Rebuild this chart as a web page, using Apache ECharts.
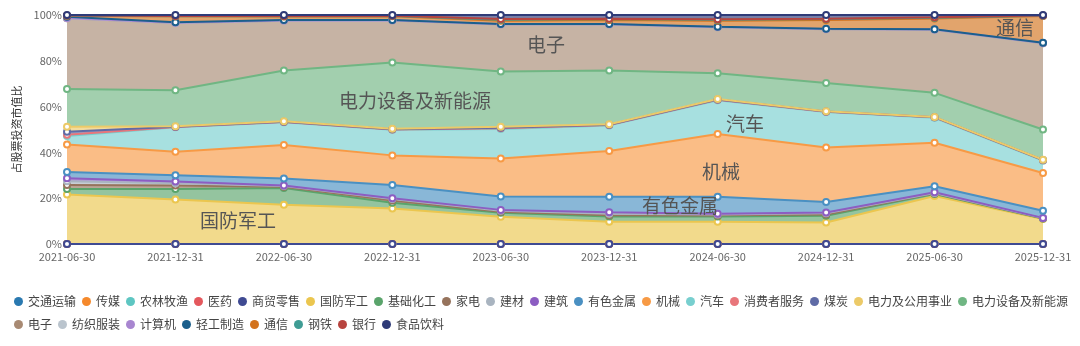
<!DOCTYPE html>
<html>
<head>
<meta charset="utf-8">
<script src="https://cdn.jsdelivr.net/npm/echarts@6/dist/echarts.min.js"></script>
<style>
  html, body { margin: 0; padding: 0; background: #fff; }
  #chart { width: 1080px; height: 346px; }
</style>
</head>
<body>
<div id="chart"></div>
<script>
const dates = ['2021-06-30', '2021-12-31', '2022-06-30', '2022-12-31', '2023-06-30',
  '2023-12-31', '2024-06-30', '2024-12-31', '2025-06-30', '2025-12-31']

const industries = ['交通运输', '传媒', '农林牧渔', '医药', '商贸零售', '国防军工', '基础化工', '家电',
  '建材', '建筑', '有色金属', '机械', '汽车', '消费者服务', '煤炭', '电力及公用事业',
  '电力设备及新能源', '电子', '纺织服装', '计算机', '轻工制造', '通信', '钢铁', '银行', '食品饮料']

const colors = ['#2a79b0', '#f5892c', '#5ec6c2', '#e4585d', '#3f4a92', '#ebc64f', '#5aa46b', '#96735c',
  '#a9b4c0', '#8c5dc2', '#4a90c2', '#f79a45', '#78cfcf', '#e8767b', '#5f6ba6', '#ecca68',
  '#70b683', '#a88a73', '#bac4cd', '#a886d0', '#1b5f8c', '#d3731d', '#3f9c94', '#b8443f', '#2f3b78']

// share of stock holdings (%), one row per industry, same order as industries
const shares = [
  [0, 0, 0, 0, 0, 0, 0, 0, 0, 0],
  [0, 0, 0, 0, 0, 0, 0, 0, 0, 0],
  [0, 0, 0, 0, 0, 0, 0, 0, 0, 0],
  [0, 0, 0, 0, 0, 0, 0, 0, 0, 0],
  [0, 0, 0, 0, 0, 0, 0, 0, 0, 0],
  [21.6, 19.4, 17.1, 15.5, 11.9, 9.7, 9.7, 9.4, 21.0, 10.9],
  [2.4, 4.6, 7.3, 2.5, 1.7, 2.3, 2.3, 2.9, 0.8, 0.2],
  [1.8, 1.6, 0.6, 1.0, 0.5, 0.6, 0.5, 0.6, 0.3, 0.1],
  [1.6, 0.9, 0.3, 0.6, 0.4, 0.6, 0.4, 0.5, 0.2, 0.1],
  [1.3, 0.8, 0.2, 0.4, 0.4, 0.7, 0.3, 0.4, 0.3, 0.1],
  [2.7, 2.7, 3.1, 5.8, 5.8, 6.7, 7.4, 4.5, 2.6, 3.1],
  [12.1, 10.3, 14.6, 12.9, 16.6, 20.0, 27.4, 23.8, 19.0, 16.5],
  [3.7, 10.7, 10.0, 11.2, 12.9, 11.2, 14.8, 15.5, 10.9, 5.4],
  [0.5, 0.1, 0.1, 0.1, 0.4, 0.2, 0.2, 0.2, 0.2, 0.2],
  [1.3, 0.1, 0.1, 0.1, 0.2, 0.1, 0.1, 0.1, 0.1, 0.1],
  [2.2, 0.2, 0.2, 0.2, 0.4, 0.2, 0.2, 0.1, 0.1, 0.1],
  [16.5, 15.7, 22.2, 29.0, 24.1, 23.5, 11.3, 12.3, 10.5, 13.2],
  [30.9, 29.4, 21.7, 18.3, 20.6, 20.1, 20.1, 23.5, 27.6, 37.7],
  [0, 0, 0, 0, 0, 0, 0, 0, 0, 0],
  [0.1, 0.1, 0.1, 0.1, 0.1, 0.1, 0.1, 0.1, 0.1, 0.1],
  [0.5, 0.2, 0.2, 0.1, 0.1, 0.1, 0.1, 0.1, 0.1, 0.1],
  [0.4, 2.6, 1.5, 1.7, 1.4, 1.7, 2.6, 3.8, 4.7, 11.7],
  [0.1, 0.1, 0.2, 0.1, 0.4, 0.4, 0.4, 0.4, 0.3, 0.1],
  [0.1, 0.1, 0.1, 0.1, 0.3, 0.2, 0.2, 0.2, 0.2, 0.1],
  [0.2, 0.4, 0.4, 0.3, 1.8, 1.6, 1.9, 1.6, 1.0, 0.2]
]

// big names written over their bands
const bandLabels = [
  { text: '国防军工', x: 238, y: 221 },
  { text: '电力设备及新能源', x: 415, y: 101 },
  { text: '电子', x: 546, y: 45 },
  { text: '汽车', x: 745, y: 124 },
  { text: '机械', x: 721, y: 172 },
  { text: '有色金属', x: 680, y: 206 },
  { text: '通信', x: 1015, y: 28 }
]

const chart = echarts.init(document.getElementById('chart'))

const series = industries.map((name, i) => ({
  name: name,
  type: 'line',
  stack: 'total',
  data: shares[i],
  symbol: 'emptyCircle',
  symbolSize: 6,
  lineStyle: { width: 2, color: colors[i] },
  itemStyle: { color: colors[i], borderWidth: 1.5 },
  areaStyle: { color: colors[i], opacity: 0.65 },
  emphasis: { disabled: true }
}))

chart.setOption({
  animation: false,
  backgroundColor: '#fff',
  color: colors,
  grid: { left: 67, right: 37, top: 15, bottom: 102 },
  legend: {
    data: industries,
    left: 9,
    top: 288,
    width: 1062,
    icon: 'circle',
    itemWidth: 9,
    itemHeight: 9,
    itemGap: 6,
    textStyle: { fontSize: 12, lineHeight: 17, color: '#444', fontFamily: 'Noto Sans CJK SC' }
  },
  xAxis: {
    type: 'category',
    data: dates,
    boundaryGap: false,
    axisLine: { show: false },
    axisTick: { show: false },
    axisLabel: { color: '#666', fontSize: 11, margin: 7, fontFamily: 'Noto Sans CJK SC' },
    splitLine: { show: false }
  },
  yAxis: {
    type: 'value',
    min: 0,
    max: 100,
    interval: 20,
    name: '占股票投资市值比',
    nameLocation: 'middle',
    nameGap: 42,
    nameTextStyle: { fontSize: 11, color: '#333', fontFamily: 'Noto Sans CJK SC' },
    axisLine: { show: false },
    axisTick: { show: false },
    axisLabel: { formatter: '{value}%', color: '#666', fontSize: 11, margin: 5, fontFamily: 'Noto Sans CJK SC' },
    splitLine: { show: false }
  },
  graphic: bandLabels.map(l => ({
    type: 'text',
    x: l.x,
    y: l.y,
    z: 100,
    style: {
      text: l.text,
      fill: '#555',
      fontSize: 19,
      fontFamily: 'Noto Sans CJK SC',
      textAlign: 'center',
      textVerticalAlign: 'middle'
    }
  })),
  series: series
})
</script>
</body>
</html>
